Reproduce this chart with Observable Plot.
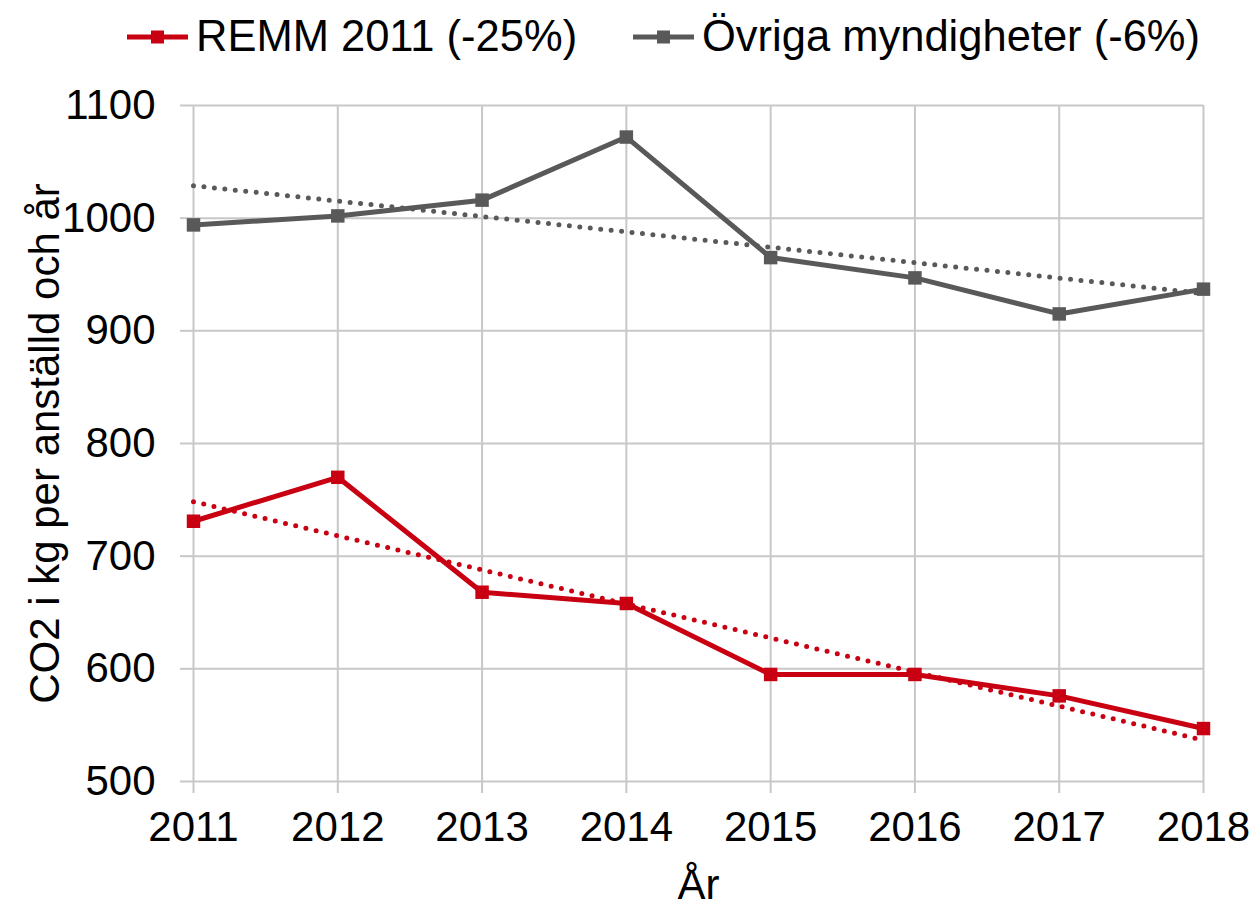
<!DOCTYPE html>
<html>
<head>
<meta charset="utf-8">
<script src="https://cdn.jsdelivr.net/npm/d3@7"></script>
<script src="https://cdn.jsdelivr.net/npm/@observablehq/plot@0.6"></script>
<style>
  body { margin: 0; background: #fff; font-family: "Liberation Sans", Arial, sans-serif; }
  #legend { position: relative; height: 80px; width: 1258px; font-size: 43.5px; color: #000; }
  .item { position: absolute; top: 12px; display: flex; align-items: center; white-space: nowrap; }
  .item svg { margin-right: 8px; }
</style>
</head>
<body>
<div id="legend"></div>
<div id="chart"></div>
<script>
const years = [2011, 2012, 2013, 2014, 2015, 2016, 2017, 2018];
const remm = [731, 770, 668, 658, 595, 595, 576, 547];
const ovriga = [994, 1002, 1016, 1072, 965, 947, 915, 937];
const seriesNames = ["REMM 2011 (-25%)", "Övriga myndigheter (-6%)"];
const seriesColors = ["#c80012", "#595959"];
const yTicks = [500, 600, 700, 800, 900, 1000, 1100];
const yTitle = "CO2 i kg per anställd och år";
const xTitle = "År";

const data = [];
years.forEach((yr, i) => {
  data.push({year: yr, value: remm[i], series: seriesNames[0]});
  data.push({year: yr, value: ovriga[i], series: seriesNames[1]});
});

// Legend
const legend = document.getElementById("legend");
const legendLeft = [127, 633];
seriesNames.forEach((name, i) => {
  const item = document.createElement("div");
  item.className = "item";
  item.style.left = legendLeft[i] + "px";
  item.innerHTML = `<svg width="61" height="20"><line x1="0" y1="10" x2="61" y2="10" stroke="${seriesColors[i]}" stroke-width="5"/><rect x="24" y="3.5" width="13" height="13" fill="${seriesColors[i]}"/></svg><span>${name}</span>`;
  legend.appendChild(item);
});

const grid = "#c8c8c8";
const chart = Plot.plot({
  width: 1258,
  height: 825,
  marginLeft: 193,
  marginRight: 55,
  marginTop: 25,
  marginBottom: 124,
  style: { fontFamily: "'Liberation Sans', Arial, sans-serif", fontSize: "42px", color: "#000", background: "#fff", overflow: "visible" },
  x: { domain: [2011, 2018] },
  y: { domain: [500, 1100] },
  color: { domain: seriesNames, range: seriesColors },
  marks: [
    Plot.gridX(years, { stroke: grid, strokeOpacity: 1, strokeWidth: 2 }),
    Plot.gridY(yTicks, { stroke: grid, strokeOpacity: 1, strokeWidth: 2 }),
    Plot.axisX(years, { tickFormat: "d", tickSize: 12, tickPadding: 18, stroke: grid, strokeWidth: 2, strokeOpacity: 1, fill: "#000", fontSize: 42, label: null }),
    Plot.axisY(yTicks, { tickFormat: "d", tickSize: 13, tickPadding: 25, stroke: grid, strokeWidth: 2, strokeOpacity: 1, fill: "#000", fontSize: 42, label: null }),
    Plot.linearRegressionY(data, { x: "year", y: "value", stroke: "series", ci: 0, strokeWidth: 5, strokeDasharray: "0 10.5", strokeLinecap: "round" }),
    Plot.line(data, { x: "year", y: "value", stroke: "series", z: "series", strokeWidth: 5 }),
    Plot.dot(data, { x: "year", y: "value", fill: "series", symbol: "square", r: 7.6 }),
    Plot.text([yTitle], { frameAnchor: "left", text: d => d, dx: -148, textAnchor: "middle", rotate: -90, fontSize: 42, fill: "#000" }),
    Plot.text([xTitle], { frameAnchor: "bottom", text: d => d, dy: 117, fontSize: 42, fill: "#000" })
  ]
});
document.getElementById("chart").appendChild(chart);
</script>
</body>
</html>
